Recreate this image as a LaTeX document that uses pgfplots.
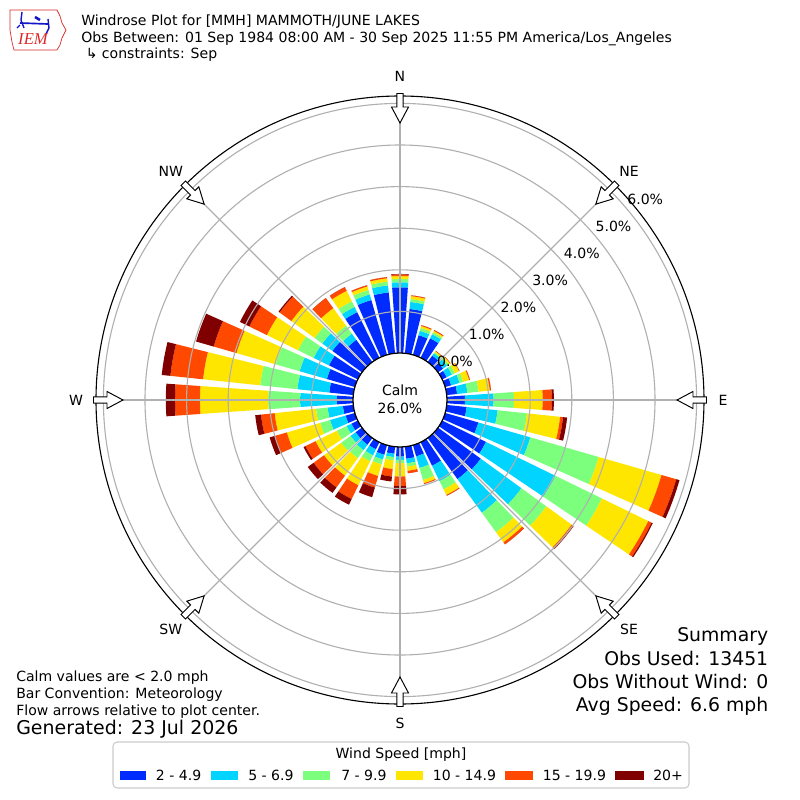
\documentclass[border=0pt]{standalone}
\usepackage{pgfplots}
\usepackage{pgfplotstable}
\pgfplotsset{compat=1.18}
\usepackage{fontspec}
\setmainfont{DejaVu Sans}
\newfontfamily\iemfont{Liberation Serif}
\definecolor{c1}{RGB}{0,43,255}
\definecolor{c2}{RGB}{0,212,255}
\definecolor{c3}{RGB}{124,255,124}
\definecolor{c4}{RGB}{255,230,0}
\definecolor{c5}{RGB}{255,73,0}
\definecolor{c6}{RGB}{128,0,0}
\definecolor{gridgray}{RGB}{176,176,176}
\definecolor{iemred}{RGB}{220,40,40}
\definecolor{iemblue}{RGB}{20,20,200}

% cumulative percentages per direction (meteorological, degrees)
\pgfplotstableread{
dir a b c d e f
0 1.58 1.70 1.78 1.85 1.89 1.90
10 1.07 1.24 1.31 1.38 1.40 1.40
20 0.49 0.60 0.67 0.72 0.74 0.74
30 0.52 0.63 0.68 0.72 0.74 0.74
40 0.19 0.26 0.29 0.32 0.33 0.33
50 0.15 0.27 0.32 0.36 0.37 0.37
60 0.12 0.26 0.34 0.45 0.46 0.46
70 0.15 0.36 0.45 0.60 0.62 0.62
80 0.25 0.50 0.77 1.04 1.07 1.07
90 0.43 1.12 1.61 2.30 2.52 2.57
100 0.48 1.23 1.94 2.74 2.81 2.91
110 0.83 2.13 3.84 5.41 5.78 5.86
120 1.17 3.03 4.27 5.51 5.60 5.63
130 1.27 2.48 3.22 3.97 4.02 4.03
140 1.22 2.22 2.80 3.10 3.16 3.16
150 0.63 1.04 1.26 1.41 1.43 1.43
160 0.28 0.57 0.87 0.95 0.97 0.97
170 0.29 0.40 0.48 0.58 0.64 0.64
180 0.23 0.31 0.39 0.71 0.94 1.14
190 0.17 0.25 0.33 0.54 0.72 0.84
200 0.24 0.36 0.48 0.77 1.06 1.30
210 0.19 0.35 0.51 1.15 1.52 1.67
220 0.20 0.36 0.60 1.12 1.47 1.63
230 0.19 0.34 0.62 1.13 1.44 1.61
240 0.17 0.30 0.56 1.13 1.40 1.45
250 0.23 0.62 0.87 1.70 1.99 2.13
260 0.25 0.62 0.90 1.90 2.23 2.37
270 0.39 1.27 2.04 3.68 4.28 4.50
280 0.58 1.35 2.25 3.63 4.42 4.63
290 0.70 1.38 1.98 2.96 3.53 3.97
300 0.77 1.18 1.60 2.43 2.90 3.15
310 0.88 1.18 1.41 2.10 2.45 2.48
320 0.66 0.84 1.08 1.60 1.90 1.90
330 1.22 1.36 1.51 1.79 1.89 1.89
340 1.37 1.51 1.62 1.71 1.74 1.74
350 1.47 1.64 1.73 1.81 1.84 1.84
}\rose

% one stacked segment: #1 direction, #2 from %, #3 to %, #4 colour
\newcommand\seg[4]{%
  \pgfmathsetmacro\sA{47+41.6*(#2)}%
  \pgfmathsetmacro\sB{47+41.6*(#3)}%
  \pgfmathsetmacro\tA{90-(#1)-4}%
  \pgfmathsetmacro\tB{90-(#1)-2}%
  \pgfmathsetmacro\tC{90-(#1)}%
  \pgfmathsetmacro\tD{90-(#1)+2}%
  \pgfmathsetmacro\tE{90-(#1)+4}%
  \edef\segtmp{\noexpand\addplot[fill=#4, draw=none, data cs=polar] coordinates {(\tA,\sA) (\tB,\sA) (\tC,\sA) (\tD,\sA) (\tE,\sA) (\tE,\sB) (\tD,\sB) (\tC,\sB) (\tB,\sB) (\tA,\sB)};}%
  \segtmp
}

\begin{document}
\begin{tikzpicture}[x=0.72bp,y=0.72bp]
\useasboundingbox (-400,-400) rectangle (400,400);
\fill[white] (-400,-400) rectangle (400,400);

\begin{axis}[x=0.72bp, y=0.72bp, xmin=-400, xmax=400, ymin=-400, ymax=400,
  at={(0,0)}, anchor=origin, hide axis, clip=false]
\pgfplotstablegetrowsof{\rose}
\pgfmathtruncatemacro\nr{\pgfplotsretval-1}
\pgfplotsforeachungrouped \i in {0,...,\nr}{%
  \pgfplotstablegetelem{\i}{dir}\of\rose \let\dd\pgfplotsretval
  \pgfplotstablegetelem{\i}{a}\of\rose \let\va\pgfplotsretval
  \pgfplotstablegetelem{\i}{b}\of\rose \let\vb\pgfplotsretval
  \pgfplotstablegetelem{\i}{c}\of\rose \let\vc\pgfplotsretval
  \pgfplotstablegetelem{\i}{d}\of\rose \let\vd\pgfplotsretval
  \pgfplotstablegetelem{\i}{e}\of\rose \let\ve\pgfplotsretval
  \pgfplotstablegetelem{\i}{f}\of\rose \let\vf\pgfplotsretval
  \seg{\dd}{0}{\va}{c1}%
  \seg{\dd}{\va}{\vb}{c2}%
  \seg{\dd}{\vb}{\vc}{c3}%
  \seg{\dd}{\vc}{\vd}{c4}%
  \seg{\dd}{\vd}{\ve}{c5}%
  \seg{\dd}{\ve}{\vf}{c6}%
}
\end{axis}

% grid
\foreach \k in {1,...,6}{
  \draw[gridgray, line width=0.8bp] (0,0) circle[radius={47+41.6*\k}];
}
\foreach \a in {0,45,...,315}{
  \draw[gridgray, line width=0.8bp] (\a:47) -- (\a:304);
}
\draw[black, line width=0.8bp] (0,0) circle[radius=304];
\draw[black, fill=white, line width=0.9bp] (0,0) circle[radius=47];

% flow arrows
\foreach \a in {0,45,...,315}{
  \draw[black, fill=white, line width=0.7bp, rotate=\a]
    (306.5,3.2) -- (293,3.2) -- (293,8.5) -- (277,0) -- (293,-8.5) -- (293,-3.2) -- (306.5,-3.2) -- cycle;
}

\begin{scope}[every node/.style={inner sep=0pt, font=\fontsize{10.15}{12}\selectfont}]
% direction labels
\node at (90:324) {N};
\node at (45:324) {NE};
\node at (0:323) {E};
\node at (-45:324) {SE};
\node at (-90:323) {S};
\node at (-135:324) {SW};
\node at (180:324) {W};
\node at (135:324) {NW};
% percentage labels
\foreach \k in {0,...,6}{
  \node at ({55+31.7*\k},{39+27*\k}) {\k.0\%};
}
% calm
\node at (0,9.5) {Calm};
\node at (0,-8) {26.0\%};

% title
\node[anchor=base west] at (-319,374.3) {Windrose Plot for [MMH] MAMMOTH/JUNE LAKES};
\node[anchor=base west] at (-319,357.7) {Obs Between: 01 Sep 1984 08:00 AM - 30 Sep 2025 11:55 PM America/Los\_Angeles};
\node[anchor=base west] at (-314.5,341.7) {↳ constraints: Sep};

% bottom left
\node[anchor=base west] at (-384,-281) {Calm values are < 2.0 mph};
\node[anchor=base west] at (-384,-298.3) {Bar Convention: Meteorology};
\node[anchor=base west] at (-384,-315.7) {Flow arrows relative to plot center.};
\node[anchor=base west, font=\fontsize{13.7}{16}\selectfont] at (-384,-334.8) {Generated: 23 Jul 2026};

% summary
\node[anchor=base east, font=\fontsize{13.6}{16}\selectfont] at (368.5,-241.5) {Summary};
\node[anchor=base east, font=\fontsize{13.6}{16}\selectfont] at (368.5,-265.5) {Obs Used: 13451};
\node[anchor=base east, font=\fontsize{13.6}{16}\selectfont] at (368.5,-288.8) {Obs Without Wind: 0};
\node[anchor=base east, font=\fontsize{13.6}{16}\selectfont] at (368.5,-311.5) {Avg Speed: 6.6 mph};

% legend
\draw[rounded corners=3, draw={rgb,255:red,204;green,204;blue,204}, fill=white, line width=0.8bp] (-287,-342) rectangle (289,-388);
\node[anchor=base] at (1,-358.3) {Wind Speed [mph]};
\fill[c1] (-280.4,-379.5) rectangle (-253.5,-370.5);
\node[anchor=base west] at (-244.3,-380) {2 - 4.9};
\fill[c2] (-189,-379.5) rectangle (-162,-370.5);
\node[anchor=base west] at (-152,-380) {5 - 6.9};
\fill[c3] (-96.5,-379.5) rectangle (-70,-370.5);
\node[anchor=base west] at (-59,-380) {7 - 9.9};
\fill[c4] (-4.4,-379.5) rectangle (22.6,-370.5);
\node[anchor=base west] at (32.6,-380) {10 - 14.9};
\fill[c5] (105,-379.5) rectangle (132.6,-370.5);
\node[anchor=base west] at (142.6,-380) {15 - 19.9};
\fill[c6] (215,-379.5) rectangle (243.5,-370.5);
\node[anchor=base west] at (253,-380) {20+};
\end{scope}

% IEM logo (simplified)
\draw[iemred, line width=0.5bp] (-390,390) -- (-343,390) -- (-340,384) -- (-338,377) -- (-334,370) -- (-338,362) -- (-340,355) -- (-343,350) -- (-386,350) -- (-388,358) -- (-390,370) -- cycle;
\draw[iemblue, line width=1.2bp] (-380,377) -- (-352,376);
\draw[iemblue, line width=1.0bp] (-378,388) -- (-379,380) -- (-376,372);
\draw[iemblue, line width=1.0bp] (-352,381) -- (-351,372) -- (-354,366);
\draw[iemblue, line width=1.8bp] (-365,383) -- (-360,380);
\draw[iemblue, line width=1.0bp] (-380,375) -- (-383,372);
\node[iemred, inner sep=0pt, font=\iemfont\itshape\fontsize{12}{14}\selectfont] at (-367,361) {IEM};
\end{tikzpicture}
\end{document}
